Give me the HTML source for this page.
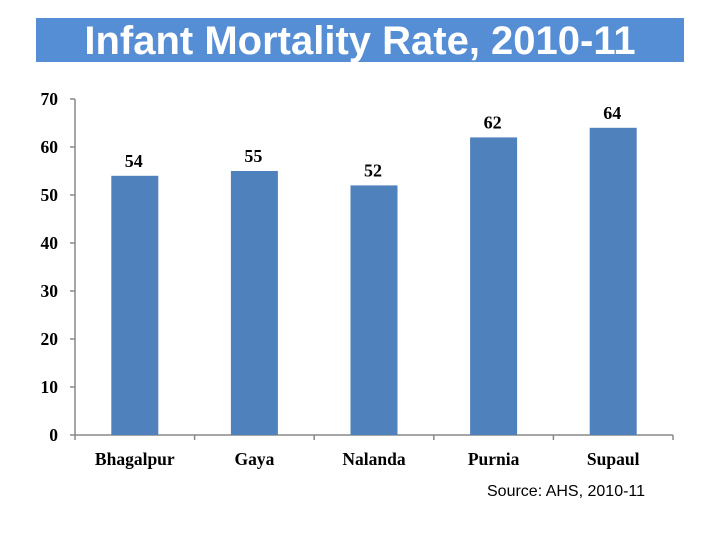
<!DOCTYPE html>
<html><head><meta charset="utf-8">
<style>
html,body{margin:0;padding:0;background:#fff;}
#wrap{position:relative;width:720px;height:540px;overflow:hidden;}
#banner{position:absolute;left:36px;top:18px;width:648px;height:44px;background:#558ed5;color:#fff;font-family:"Liberation Sans",sans-serif;font-weight:bold;font-size:40px;line-height:46px;text-align:center;}
#src{position:absolute;left:487px;top:483px;font-family:"Liberation Sans",sans-serif;font-size:16px;color:#000;}
svg{position:absolute;left:0;top:0;}
</style></head>
<body>
<div id="wrap">
<div id="banner">Infant Mortality Rate, 2010-11</div>
<svg id="chart" width="720" height="540"></svg>
<div id="src">Source: AHS, 2010-11</div>
</div>
<script>
const categories = ["Bhagalpur","Gaya","Nalanda","Purnia","Supaul"];
const values = [54,55,52,62,64];
const yTicks = [0,10,20,30,40,50,60,70];

const NS="http://www.w3.org/2000/svg";
const svg=document.getElementById('chart');
const x0=75,x1=673,y0=435,yTop=99,yMax=70;
const bw=(x1-x0)/categories.length;
const yS=v=>y0-(v/yMax)*(y0-yTop);
const xC=i=>x0+bw*(i+0.5);
function mk(t,a){const e=document.createElementNS(NS,t);for(const k in a)e.setAttribute(k,a[k]);svg.appendChild(e);return e;}
const font='"Liberation Serif",serif';
let ax=mk('line',{x1:x0,y1:yTop,x2:x0,y2:y0,stroke:'#888','stroke-width':1.5});


let bx=mk('line',{x1:x0,y1:y0,x2:x1,y2:y0,stroke:'#888','stroke-width':1.5});


yTicks.forEach(t=>{
  const y=yS(t);
  const tk=mk('line',{x1:x0-5,y1:y,x2:x0,y2:y,stroke:'#888','stroke-width':1.5});
  
  
  const tx=mk('text',{x:x0-17,y:y+6,'text-anchor':'end','font-family':font,'font-weight':'bold','font-size':17.5});
  tx.textContent=t;
  
  
});
for(let i=0;i<=categories.length;i++){
  const x=x0+bw*i;
  const tk=mk('line',{x1:x,y1:y0,x2:x,y2:y0+5,stroke:'#888','stroke-width':1.5});
  
  
}
categories.forEach((c,i)=>{
  const v=values[i];
  const b=mk('rect',{x:xC(i)-23.5,y:yS(v),width:47,height:y0-yS(v),fill:'#4f81bd'});
  
  
  const l=mk('text',{x:xC(i)-1,y:yS(v)-9,'text-anchor':'middle','font-family':font,'font-weight':'bold','font-size':18});
  l.textContent=v;
  
  
  const cl=mk('text',{x:xC(i),y:y0+30,'text-anchor':'middle','font-family':font,'font-weight':'bold','font-size':17.5});
  cl.textContent=c;
  
  
});
</script>
</body></html>
